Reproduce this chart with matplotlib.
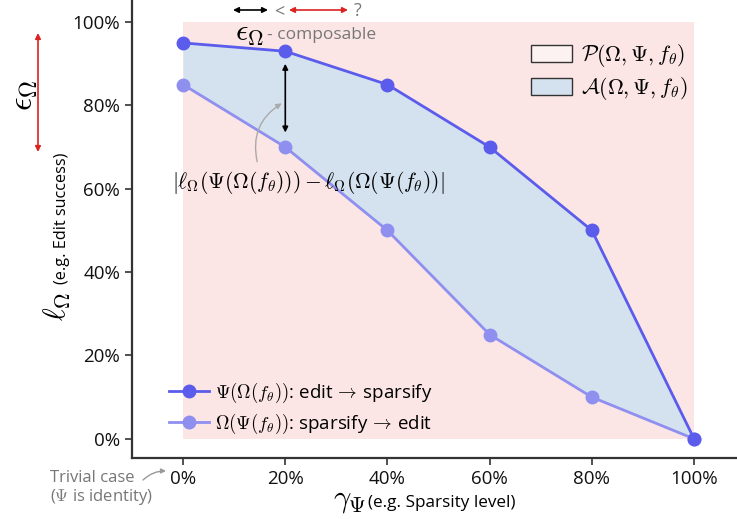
import matplotlib
matplotlib.use("Agg")
import matplotlib.pyplot as plt
from matplotlib.patches import Patch
from matplotlib.lines import Line2D

plt.rcParams['font.family'] = ['Open Sans', 'DejaVu Sans']
plt.rcParams['mathtext.fontset'] = 'cm'

sparsity = [0, 20, 40, 60, 80, 100]
edit_then_sparsify = [95, 93, 85, 70, 50, 0]
sparsify_then_edit = [85, 70, 50, 25, 10, 0]
xticks = [0, 20, 40, 60, 80, 100]
yticks = [0, 20, 40, 60, 80, 100]

c_up = '#5b5bec'
c_lo = '#8f8ff0'
c_fill = '#d4e2ef'
c_pink = '#fbe5e5'
c_gray = '#777777'

W, H = 737, 519
fig = plt.figure(figsize=(W / 100, H / 100), dpi=100)
ax = fig.add_axes([132 / W, (H - 458) / H, 1 - 132 / W, 458 / H])

def fx(px):
    return px / W

def fy(py):
    return 1 - py / H

# regions
ax.fill_between([0, 100], [0, 0], [100, 100], color=c_pink, lw=0, zorder=0)
ax.fill_between(sparsity, sparsify_then_edit, edit_then_sparsify, color=c_fill, lw=0, zorder=1)

ax.plot(sparsity, edit_then_sparsify, '-o', color=c_up, lw=2, ms=9, zorder=4)
ax.plot(sparsity, sparsify_then_edit, '-o', color=c_lo, lw=2, ms=9, zorder=3)

ax.set_xlim(-10, 108.4)
ax.set_ylim(-4.6, 105.3)
ax.set_xticks(xticks)
ax.set_xticklabels([f"{v}%" for v in xticks])
ax.set_yticks(yticks)
ax.set_yticklabels([f"{v}%" for v in yticks])
ax.tick_params(labelsize=13.5, length=5, width=1.2, color='#333333', labelcolor='#111111')
for s in ['top', 'right']:
    ax.spines[s].set_visible(False)
for s in ['left', 'bottom']:
    ax.spines[s].set_linewidth(1.6)
    ax.spines[s].set_color('#333333')

# axis labels (two-part)
fig.text(fx(57), fy(306), r'$\ell_\Omega$', rotation=90, fontsize=22, ha='center', va='center')
fig.text(fx(62), fy(218), '(e.g. Edit success)', rotation=90, fontsize=11.7, ha='center', va='center')
fig.text(fx(350), fy(500), r'$\gamma_\Psi$', fontsize=22, ha='center', va='center')
fig.text(fx(368), fy(503), '(e.g. Sparsity level)', fontsize=12.3, ha='left', va='center')

# left epsilon with red arrow
fig.text(fx(24), fy(95), r'$\epsilon_\Omega$', rotation=90, fontsize=24, ha='center', va='center')
ax.annotate('', xy=(fx(38), fy(33)), xytext=(fx(38), fy(152)), xycoords='figure fraction',
            textcoords='figure fraction',
            arrowprops=dict(arrowstyle='<|-|>', color='#dd2222', lw=1.2, mutation_scale=8,
                            shrinkA=0, shrinkB=0), annotation_clip=False)

# top row arrows
ax.annotate('', xy=(fx(233), fy(10)), xytext=(fx(268), fy(10)), xycoords='figure fraction',
            textcoords='figure fraction',
            arrowprops=dict(arrowstyle='<|-|>', color='black', lw=1.2, mutation_scale=8,
                            shrinkA=0, shrinkB=0), annotation_clip=False)
fig.text(fx(279), fy(11), '<', fontsize=13, color=c_gray, ha='center', va='center')
ax.annotate('', xy=(fx(289), fy(10)), xytext=(fx(348), fy(10)), xycoords='figure fraction',
            textcoords='figure fraction',
            arrowprops=dict(arrowstyle='<|-|>', color='#dd2222', lw=1.2, mutation_scale=8,
                            shrinkA=0, shrinkB=0), annotation_clip=False)
fig.text(fx(358), fy(11), '?', fontsize=13, color=c_gray, ha='center', va='center')

# composable label
fig.text(fx(249), fy(33), r'$\epsilon_\Omega$', fontsize=22, ha='center', va='center')
fig.text(fx(267), fy(35), '- composable', fontsize=12.5, color=c_gray, ha='left', va='center')

# black vertical arrow at x=20
ax.annotate('', xy=(20, 90), xytext=(20, 73.5),
            arrowprops=dict(arrowstyle='<|-|>', color='black', lw=1.2, mutation_scale=8,
                            shrinkA=0, shrinkB=0), zorder=6)

# formula text and curved arrow
ax.text(24.5, 61.5, r'$|\ell_\Omega(\Psi(\Omega(f_\theta))) - \ell_\Omega(\Omega(\Psi(f_\theta))|$',
        fontsize=15.5, ha='center', va='center', zorder=5)
ax.annotate('', xy=(19.3, 80.5), xytext=(14.5, 66.5),
            arrowprops=dict(arrowstyle='-|>', color='#aaaaaa', lw=1.0, mutation_scale=8,
                            shrinkA=0, shrinkB=0, connectionstyle='arc3,rad=-0.35'), zorder=5)

# trivial case
fig.text(fx(50), fy(478), 'Trivial case', fontsize=12, color=c_gray, ha='left', va='center')
fig.text(fx(50), fy(497), r'($\Psi$ is identity)', fontsize=12, color=c_gray, ha='left', va='center')
ax.annotate('', xy=(fx(166), fy(471)), xytext=(fx(143), fy(480)), xycoords='figure fraction',
            textcoords='figure fraction',
            arrowprops=dict(arrowstyle='-|>', color='#999999', lw=1.0, mutation_scale=7,
                            shrinkA=0, shrinkB=0, connectionstyle='arc3,rad=-0.2'),
            annotation_clip=False)

# legends
h_lines = [Line2D([], [], color=c_up, lw=2, marker='o', ms=9),
           Line2D([], [], color=c_lo, lw=2, marker='o', ms=9)]
leg1 = ax.legend(h_lines, [r'$\Psi(\Omega(f_\theta))$: edit$\,\rightarrow\,$sparsify',
                           r'$\Omega(\Psi(f_\theta))$: sparsify$\,\rightarrow\,$edit'],
                 loc='lower left', bbox_to_anchor=(fx(156), fy(449)),
                 bbox_transform=fig.transFigure, frameon=False, fontsize=13.5,
                 handlelength=2.1, handletextpad=0.35, labelspacing=0.38, borderpad=0.2)
ax.add_artist(leg1)

h_patch = [Patch(facecolor='#fdf2f2', edgecolor='#333333', lw=1.0),
           Patch(facecolor=c_fill, edgecolor='#333333', lw=1.0)]
ax.legend(h_patch, [r'$\mathcal{P}(\Omega, \Psi, f_\theta)$', r'$\mathcal{A}(\Omega, \Psi, f_\theta)$'],
          loc='upper right', bbox_to_anchor=(fx(703), fy(27)), bbox_transform=fig.transFigure,
          frameon=False, fontsize=15.8, handlelength=1.9, handleheight=0.8,
          handletextpad=0.4, labelspacing=0.25, borderpad=0.2)

fig.savefig('out.png', dpi=100)
